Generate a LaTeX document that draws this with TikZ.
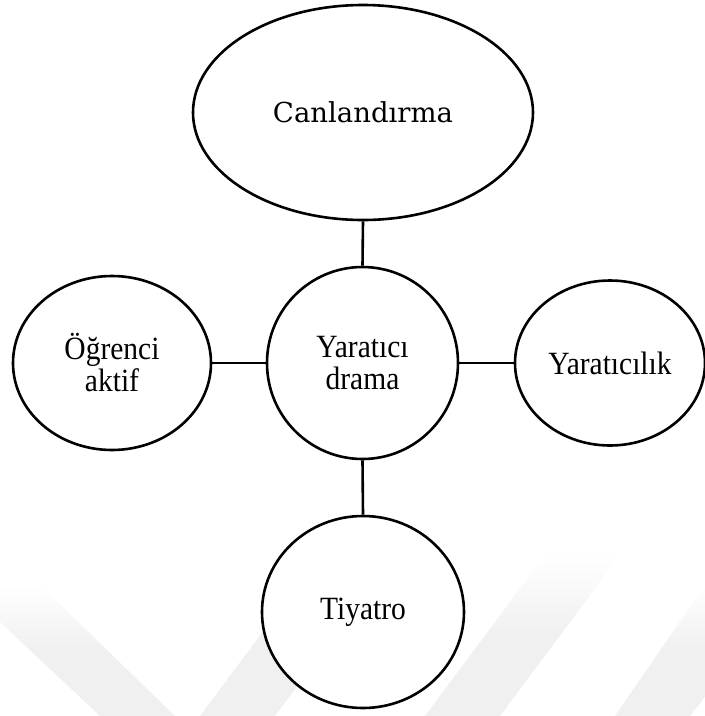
\documentclass[tikz,border=0pt]{standalone}
\usepackage{fontspec}
\setmainfont{Liberation Serif}
\newfontfamily\headfont{DejaVu Serif}
\usetikzlibrary{shapes.geometric}
\definecolor{markgray}{HTML}{F0F0F0}
% taller serif lettering for the bubble labels
\newcommand{\tallword}[1]{\scalebox{1}[1.1]{#1}}
\begin{document}
\begin{tikzpicture}[x=1pt,y=-1pt,
  bubble/.style={ellipse, draw=black, line width=2.6pt, fill=white,
    inner sep=0pt, align=center, font=\fontsize{29.5}{32}\selectfont},
  link/.style={draw=black, line width=2.6pt},
  chevron/.style={top color=white, bottom color=markgray, middle color=markgray}]
\useasboundingbox (0,0) rectangle (705,716);
% faint background chevrons
\shade[chevron] (0,585) -- (40,585) -- (175,716) -- (100,716) -- (0,622) -- cycle;
\shade[chevron] (200,716) -- (275,716) -- (395,555) -- (320,555) -- cycle;
\shade[chevron] (425,716) -- (500,716) -- (620,555) -- (545,555) -- cycle;
\shade[chevron] (615,716) -- (690,716) -- (705,697) -- (705,585) -- cycle;
% topic bubbles
\node[bubble, minimum width=340pt, minimum height=215pt,
  font=\headfont\fontsize{27.5}{30}\selectfont] (canl) at (363,112.5) {Canlandırma};
\node[bubble, minimum width=191pt, minimum height=192pt] (drama) at (362.5,363)
  {\tallword{Yaratıcı}\\\tallword{drama}};
\node[bubble, minimum width=198pt, minimum height=174pt] (ogr) at (112,363)
  {\tallword{Öğrenci}\\\tallword{aktif}};
\node[bubble, minimum width=190pt, minimum height=165pt] (yar) at (610,363)
  {\tallword{Yaratıcılık}};
\node[bubble, minimum width=202pt, minimum height=192pt] (tiy) at (363,612)
  {\tallword{Tiyatro}};
% links to the central bubble
\draw[link] (canl.south) -- (drama.north);
\draw[link] (ogr.east) -- (drama.west);
\draw[link] (drama.east) -- (yar.west);
\draw[link] (drama.south) -- (tiy.north);
\end{tikzpicture}
\end{document}
